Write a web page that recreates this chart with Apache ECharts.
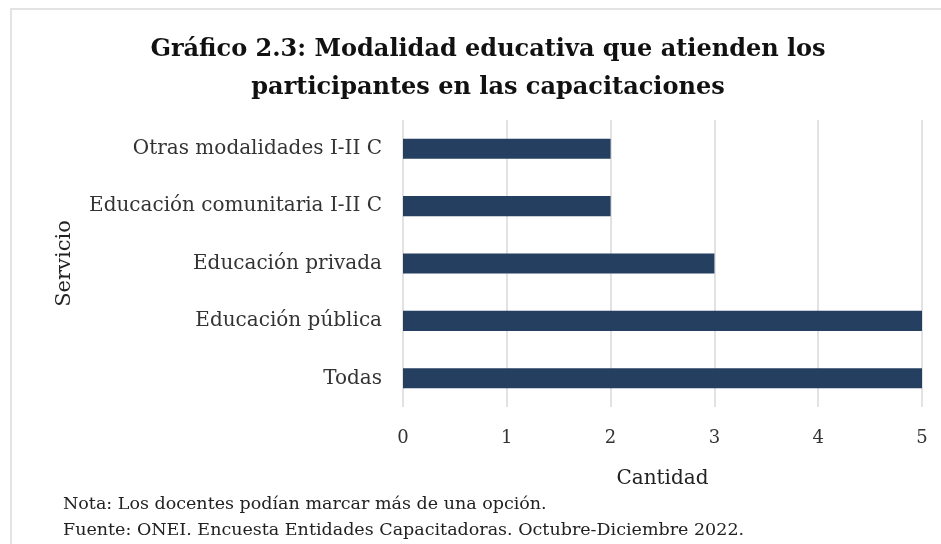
<!DOCTYPE html>
<html>
<head>
<meta charset="utf-8">
<script src="https://cdn.jsdelivr.net/npm/echarts@6/dist/echarts.min.js"></script>
<style>
  html, body { margin: 0; padding: 0; background: #ffffff; }
  #chart { width: 941px; height: 544px; }
</style>
</head>
<body>
<div id="chart"></div>
<script>
// categorias de abajo hacia arriba
var categorias = ["Todas", "Educación pública", "Educación privada", "Educación comunitaria I-II C", "Otras modalidades I-II C"];
var cantidades = [5, 5, 3, 2, 2];
var ticksX = [0, 1, 2, 3, 4, 5];

var tituloTexto = "Gráfico 2.3: Modalidad educativa que atienden los\nparticipantes en las capacitaciones";
var notaTexto = "Nota: Los docentes podían marcar más de una opción.";
var fuenteTexto = "Fuente: ONEI. Encuesta Entidades Capacitadoras. Octubre-Diciembre 2022.";

var fuente = "DejaVu Serif";
var myChart = echarts.init(document.getElementById("chart"));

var option = {
  backgroundColor: "#ffffff",
  animation: false,
  title: [
    {
      text: tituloTexto,
      left: 483,
      top: 26,
      textAlign: "center",
      textStyle: {
        fontFamily: fuente,
        fontSize: 24,
        fontWeight: "bold",
        color: "#111111",
        lineHeight: 38
      }
    },
    {
      text: notaTexto,
      left: 58,
      top: 490,
      textStyle: { fontFamily: fuente, fontSize: 17.5, fontWeight: "normal", color: "#222222" }
    },
    {
      text: fuenteTexto,
      left: 58,
      top: 516,
      textStyle: { fontFamily: fuente, fontSize: 17.5, fontWeight: "normal", color: "#222222" }
    }
  ],
  graphic: [
    {
      type: "polyline",
      shape: { points: [[11, 544], [11, 9], [941, 9]] },
      style: { stroke: "#e3e3e3", lineWidth: 2, fill: null },
      silent: true
    }
  ],
  grid: {
    left: 403,
    right: 19,
    top: 120,
    bottom: 137
  },
  xAxis: {
    type: "value",
    min: 0,
    max: 5,
    interval: 1,
    name: "Cantidad",
    nameLocation: "middle",
    nameGap: 62,
    nameTextStyle: { fontFamily: fuente, fontSize: 20, color: "#222222" },
    axisLine: { show: false },
    axisTick: { show: false },
    axisLabel: {
      margin: 22,
      fontFamily: fuente,
      fontSize: 18,
      color: "#333333",
      formatter: function (v) { return ticksX.indexOf(v) >= 0 ? String(v) : ""; }
    },
    splitLine: { show: true, lineStyle: { color: "#d9d9d9", width: 1.5 } }
  },
  yAxis: {
    type: "category",
    data: categorias,
    name: "Servicio",
    nameLocation: "middle",
    nameRotate: 90,
    nameGap: 328,
    nameTextStyle: { fontFamily: fuente, fontSize: 21, color: "#222222" },
    axisLine: { show: false },
    axisTick: { show: false },
    axisLabel: {
      margin: 21,
      fontFamily: fuente,
      fontSize: 20,
      color: "#333333"
    }
  },
  series: [
    {
      name: "Cantidad",
      type: "bar",
      data: cantidades,
      barWidth: "35%",
      itemStyle: { color: "#243f60" }
    }
  ]
};

myChart.setOption(option);
window.onresize = function () {
  myChart.resize();
};
</script>
</body>
</html>
